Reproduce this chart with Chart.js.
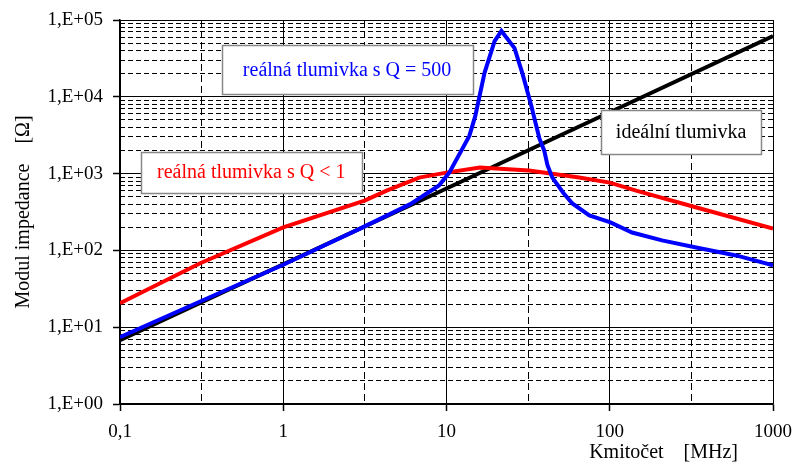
<!DOCTYPE html>
<html>
<head>
<meta charset="utf-8">
<script src="https://cdn.jsdelivr.net/npm/chart.js@4/dist/chart.umd.min.js"></script>
<style>
  html, body { margin: 0; padding: 0; background: #fff; }
  #wrap { width: 797px; height: 466px; }
</style>
</head>
<body>
<div id="wrap"><canvas id="chart"></canvas></div>
<script>
const FONT = '"Liberation Serif", "Times New Roman", serif';

// frequency [MHz] / impedance modulus [ohm]
const freqIdeal = [0.1, 1, 10, 100, 1000];
const zIdeal = [6.8, 66, 640, 6300, 62000];

const freqQ500 = [0.1, 0.3, 1, 3, 6, 9, 10.4, 13.8, 15, 17.1, 19.7, 21.7, 26.1, 29.2, 33.1, 37.1, 39.7, 41.5, 44.5, 52, 59, 75, 101, 137, 209, 338, 594, 1000];
const zQ500 = [7.4, 21, 65, 195, 400, 700, 1030, 3100, 5600, 20500, 53000, 72000, 43000, 20000, 7600, 2850, 1990, 1300, 887, 560, 408, 285, 231, 171, 135, 109, 86, 64];

const freqQ1 = [0.1, 0.31, 1, 3.15, 4.3, 6.8, 7.9, 10, 16, 32, 65, 100, 145, 340, 1000];
const zQ1 = [20.5, 68, 199, 446, 601, 887, 942, 1030, 1197, 1094, 887, 764, 601, 362, 193];

// axes
const xMajor = [0.1, 1, 10, 100, 1000];
const xTickLabels = ['0,1', '1', '10', '100', '1000'];
const xHalf = [0.316, 3.16, 31.6, 316];
const yMajor = [1, 10, 100, 1000, 10000, 100000];
const yTickLabels = ['1,E+00', '1,E+01', '1,E+02', '1,E+03', '1,E+04', '1,E+05'];
const yMinorSteps = [2, 3, 4, 5, 6, 7, 8, 9];

// text boxes placed in the plot (anchor = box centre in data units)
const notes = [
  { text: 'reálná tlumivka s Q = 500', color: '#0000ff', f: 2.46, z: 22760, w: 251, h: 49 },
  { text: 'reálná tlumivka s Q < 1', color: '#ff0000', f: 0.637, z: 1046, w: 221, h: 41 },
  { text: 'ideální tlumivka', color: '#000000', f: 273.6, z: 3510, w: 160, h: 44 }
];

const yMinor = [];
yMajor.slice(0, -1).forEach(d => yMinorSteps.forEach(s => yMinor.push(d * s)));

function toPoints(xs, ys) {
  return xs.map((v, i) => ({ x: v, y: ys[i] }));
}

const notePlugin = {
  id: 'notes',
  afterDatasetsDraw(chart) {
    const { ctx, scales } = chart;
    ctx.save();
    ctx.font = '20px ' + FONT;
    ctx.textAlign = 'center';
    ctx.textBaseline = 'middle';
    notes.forEach(n => {
      const cx = scales.x.getPixelForValue(n.f);
      const cy = scales.y.getPixelForValue(n.z);
      const left = Math.round(cx - n.w / 2) + 0.5;
      const top = Math.round(cy - n.h / 2) + 0.5;
      ctx.fillStyle = '#fff';
      ctx.fillRect(left, top, n.w, n.h);
      ctx.strokeStyle = '#888';
      ctx.lineWidth = 1.5;
      ctx.strokeRect(left, top, n.w, n.h);
      ctx.fillStyle = n.color;
      ctx.fillText(n.text, cx, cy + 1);
    });
    ctx.restore();
  }
};

const tickFont = { family: FONT, size: 19 };
const titleFont = { family: FONT, size: 20 };

new Chart(document.getElementById('chart'), {
  type: 'line',
  data: {
    datasets: [
      { label: 'Q = 500', data: toPoints(freqQ500, zQ500), borderColor: '#0000ff', borderWidth: 4, xAxisID: 'x', yAxisID: 'y' },
      { label: 'Q < 1', data: toPoints(freqQ1, zQ1), borderColor: '#ff0000', borderWidth: 4, xAxisID: 'x', yAxisID: 'y' },
      { label: 'ideální', data: toPoints(freqIdeal, zIdeal), borderColor: '#000000', borderWidth: 4, xAxisID: 'x', yAxisID: 'y' }
    ]
  },
  options: {
    responsive: true,
    maintainAspectRatio: false,
    animation: false,
    layout: { padding: { left: 0, top: 20, right: 24, bottom: 0 } },
    elements: { point: { radius: 0 }, line: { tension: 0, fill: false } },
    plugins: { legend: { display: false }, tooltip: { enabled: false } },
    scales: {
      x: {
        type: 'logarithmic', position: 'bottom', min: 0.1, max: 1000,
        afterBuildTicks: s => { s.ticks = xMajor.map(v => ({ value: v })); },
        afterFit: s => { s.height = 62; s.paddingLeft = 0; s.paddingRight = 0; },
        ticks: { autoSkip: false, maxRotation: 0, padding: 10, color: '#000', font: tickFont,
          callback: (v, i) => xTickLabels[i] },
        grid: { color: '#000', lineWidth: 1, tickLength: 7, tickColor: '#000', tickWidth: 1.5 },
        border: { color: '#000', width: 1.5 },
        title: { display: true, text: 'Kmitočet    [MHz]       ', align: 'end', color: '#000', font: titleFont,
          padding: { top: 0, bottom: 1 } }
      },
      xMinor: {
        type: 'logarithmic', position: 'bottom', min: 0.1, max: 1000,
        afterBuildTicks: s => { s.ticks = xHalf.map(v => ({ value: v })); },
        afterFit: s => { s.height = 0; s.paddingLeft = 0; s.paddingRight = 0; },
        ticks: { display: false },
        grid: { color: '#000', lineWidth: 1, drawTicks: false },
        border: { display: false, dash: [7, 4] }
      },
      y: {
        type: 'logarithmic', position: 'left', min: 1, max: 100000,
        afterBuildTicks: s => { s.ticks = yMajor.map(v => ({ value: v })); },
        afterFit: s => { s.width = 120; s.paddingTop = 0; s.paddingBottom = 0; },
        ticks: { autoSkip: false, padding: 10, color: '#000', font: tickFont,
          callback: (v, i) => yTickLabels[i] },
        grid: { color: '#000', lineWidth: 1, tickLength: 7, tickColor: '#000', tickWidth: 1.5 },
        border: { color: '#000', width: 1.5 },
        title: { display: true, text: 'Modul impedance    [Ω]', color: '#000', font: titleFont,
          padding: { top: 12, bottom: 0 } }
      },
      yMinor: {
        type: 'logarithmic', position: 'left', min: 1, max: 100000,
        afterBuildTicks: s => { s.ticks = yMinor.map(v => ({ value: v })); },
        afterFit: s => { s.width = 0; s.paddingTop = 0; s.paddingBottom = 0; },
        ticks: { display: false },
        grid: { color: '#000', lineWidth: 1, drawTicks: false },
        border: { display: false, dash: [5, 3] }
      }
    }
  },
  plugins: [notePlugin]
});
</script>
</body>
</html>
